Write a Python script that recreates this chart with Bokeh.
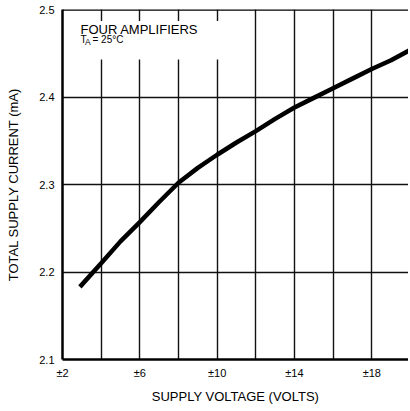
from bokeh.plotting import figure
from bokeh.models import FixedTicker, Label, Span, BoxAnnotation, Range1d
from bokeh.embed import file_html
from bokeh.resources import INLINE

# Data
supply_v = [2.9, 4, 5, 6, 7, 8, 9, 10, 11, 12, 13, 14, 15, 16, 17, 18, 19, 20]
supply_i = [2.183, 2.210, 2.235, 2.257, 2.280, 2.302, 2.319, 2.334, 2.348,
            2.361, 2.375, 2.388, 2.399, 2.410, 2.421, 2.432, 2.442, 2.454]
x_tick_vals = [2, 6, 10, 14, 18]
x_tick_text = ["±2", "±6", "±10", "±14", "±18"]
x_grid_vals = [4, 6, 8, 10, 12, 14, 16, 18, 20]
y_tick_vals = [2.1, 2.2, 2.3, 2.4, 2.5]
y_grid_vals = [2.2, 2.3, 2.4]
x_lo, x_hi = 2, 19.9
y_lo, y_hi = 2.1, 2.5

FONT = "Liberation Sans"

p = figure(width=408, height=406, output_backend="svg", toolbar_location=None,
           x_range=Range1d(x_lo, x_hi), y_range=Range1d(y_lo, y_hi),
           min_border_left=62, min_border_right=0, min_border_top=9,
           min_border_bottom=45)
p.outline_line_color = None
p.background_fill_color = "white"
p.border_fill_color = "white"

# grids
p.xgrid.ticker = FixedTicker(ticks=x_grid_vals)
p.ygrid.ticker = FixedTicker(ticks=y_grid_vals)
for g in (p.xgrid, p.ygrid):
    g.grid_line_color = "#111111"
    g.grid_line_width = 1.4

# axes
for ax in (p.xaxis, p.yaxis):
    ax.axis_line_color = "black"
    ax.axis_line_width = 2.5
    ax.major_tick_out = 0
    ax.major_tick_in = 0
    ax.minor_tick_out = 0
    ax.minor_tick_in = 0
    ax.major_label_text_font = FONT
    ax.major_label_text_font_size = "11px"
    ax.major_label_text_color = "black"
    ax.axis_label_text_font = FONT
    ax.axis_label_text_font_size = "13px"
    ax.axis_label_text_font_style = "normal"
    ax.axis_label_text_color = "black"

p.xaxis.major_label_standoff = 7
p.yaxis.major_label_standoff = 8
p.xaxis.ticker = FixedTicker(ticks=x_tick_vals)
p.xaxis.major_label_overrides = {v: t for v, t in zip(x_tick_vals, x_tick_text)}
p.yaxis.ticker = FixedTicker(ticks=y_tick_vals)
p.xaxis.axis_label = "SUPPLY VOLTAGE (VOLTS)"
p.yaxis.axis_label = "TOTAL SUPPLY CURRENT (mA)"
p.xaxis.axis_label_standoff = 7
p.yaxis.axis_label_standoff = 15

# top border
p.add_layout(Span(location=y_hi, dimension="width", line_color="black", line_width=2.5))

# curve
p.line(supply_v, supply_i, line_color="black", line_width=4.5)

# white box behind note
p.add_layout(BoxAnnotation(left=2.1, right=10.4, bottom=2.443, top=2.487,
                           fill_color="white", fill_alpha=1.0, line_color=None))

p.add_layout(Label(x=2.93, y=2.4770, text="FOUR AMPLIFIERS", text_font=FONT,
                   text_font_size="13px", text_color="black",
                   text_baseline="alphabetic"))
p.add_layout(Label(x=2.93, y=2.4655, text="T", text_font=FONT,
                   text_font_size="10px", text_color="black",
                   text_baseline="alphabetic"))
p.add_layout(Label(x=3.16, y=2.4625, text="A", text_font=FONT,
                   text_font_size="8.5px", text_color="black",
                   text_baseline="alphabetic"))
p.add_layout(Label(x=3.55, y=2.4655, text="= 25°C", text_font=FONT,
                   text_font_size="10px", text_color="black",
                   text_baseline="alphabetic"))

open("out.html", "w").write(file_html(p, INLINE))
